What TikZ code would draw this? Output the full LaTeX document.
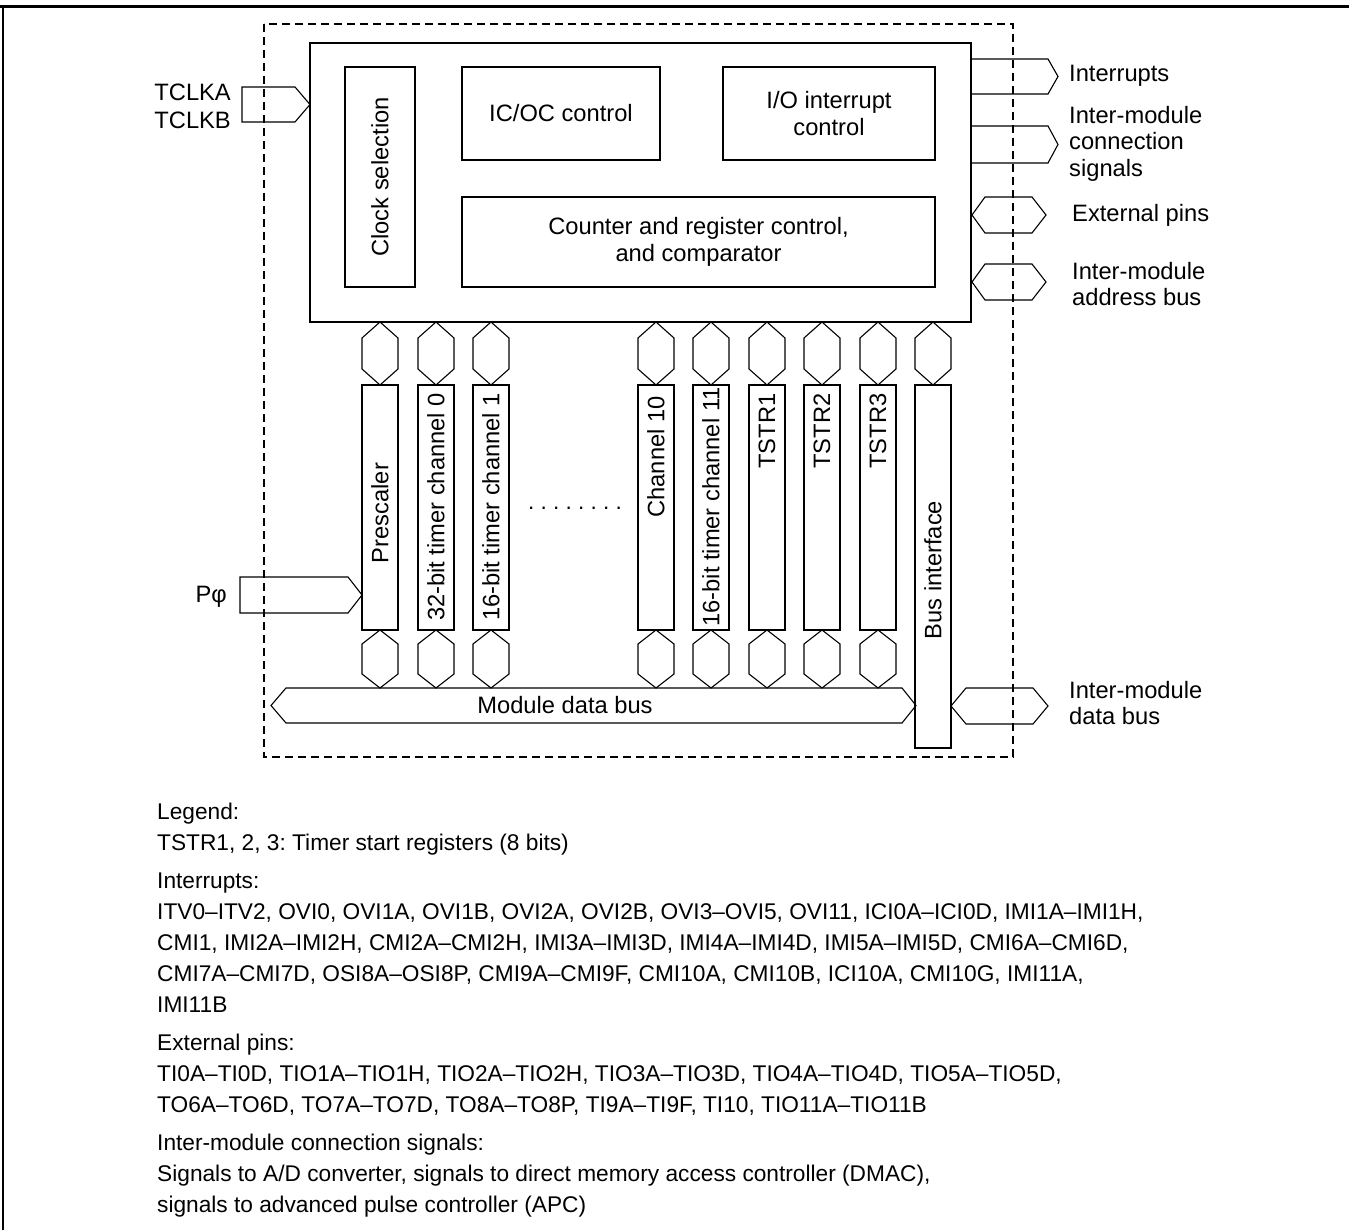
\documentclass[tikz,border=0pt]{standalone}
\usepackage{fontspec}
\setmainfont{Liberation Sans}
\frenchspacing
\begin{document}
\begin{tikzpicture}[x=1pt,y=-1pt,
  lbl/.style={font=\fontsize{23.7}{26.5}\selectfont, inner sep=0pt},
  leg/.style={font=\fontsize{22.7}{27}\selectfont, inner sep=0pt, anchor=base west},
  box/.style={draw, line width=1.1pt, inner sep=0pt},
  bus/.style={draw, line width=1.1pt, line join=miter}]
\useasboundingbox (0,0) rectangle (1349,1230);
% outer frame (top and left)
\draw[line width=3pt] (0,7) -- (1349,7);
\draw[line width=2pt] (3,5.5) -- (3,1230);
% module boundary
\draw[line width=1.1pt, dash pattern=on 8pt off 5pt] (264,24) rectangle (1013,757);
% main control block
\node[box, minimum width=661pt, minimum height=279pt] (main) at (640.5,182.5) {};
\node[box, minimum width=70pt, minimum height=220pt] (clk) at (380,177) {};
\node[lbl, rotate=90] at (clk.center) {Clock selection};
\node[box, lbl, minimum width=198pt, minimum height=93pt] (icoc) at (561,113.5) {IC/OC control};
\node[box, lbl, align=center, minimum width=212pt, minimum height=93pt] (ioint) at (829,113.5) {I/O interrupt\\control};
\node[box, lbl, align=center, minimum width=473pt, minimum height=90pt] (cnt) at (698.5,242) {Counter and register control,\\and comparator};
% columns
\foreach \n/\x/\t/\ty in {pre/380/Prescaler/513, c0/436/32-bit timer channel 0/507, c1/491/16-bit timer channel 1/507, c10/656/Channel 10/457, c11/711/16-bit timer channel 11/507, t1/767/TSTR1/431, t2/822/TSTR2/431, t3/878/TSTR3/431}{
  \draw[bus] (\x,322) -- ({\x+18},338) -- ({\x+18},369) -- (\x,385) -- ({\x-18},369) -- ({\x-18},338) -- cycle;
  \node[box, minimum width=36pt, minimum height=245pt] (col-\n) at (\x,507.5) {};
  \node[lbl, rotate=90] at (\x,\ty) {\t};
  \draw[bus] (\x,630) -- ({\x+18},644) -- ({\x+18},674) -- (\x,688) -- ({\x-18},674) -- ({\x-18},644) -- cycle;
}
% bus interface
\draw[bus] (933,322) -- (951,338) -- (951,369) -- (933,385) -- (915,369) -- (915,338) -- cycle;
\node[box, minimum width=36pt, minimum height=363pt] (col-bi) at (933,566.5) {};
\node[lbl, rotate=90] at (933,570) {Bus interface};
% dots
\node[lbl, font=\fontsize{22.5}{26}\selectfont] (dots) at (575,508) {. . . . . . . .};
% module data bus
\draw[bus] (271,705.5) -- (286,688) -- (902,688) -- (916,705.5) -- (902,723) -- (286,723) -- cycle;
\node[lbl] (mdb) at (565,705) {Module data bus};
% inter-module data bus
\draw[bus] (951,706) -- (966,688) -- (1033,688) -- (1048,706) -- (1033,724) -- (966,724) -- cycle;
\node[lbl, align=left, anchor=west] at (1069,703) {Inter-module\\data bus};
% TCLK input
\draw[bus] (242,87) -- (295,87) -- (310,104.5) -- (295,122) -- (242,122) -- cycle;
\node[lbl, anchor=east] at (231,92) {TCLKA};
\node[lbl, anchor=east] at (231,120) {TCLKB};
% P phi input
\draw[bus] (240,577) -- (348,577) -- (362,595) -- (348,613) -- (240,613) -- cycle;
\node[lbl, anchor=east] at (227,597) {Pφ};
% outputs on right
\draw[bus] (972,59) -- (1048,59) -- (1058,76.5) -- (1048,94) -- (972,94);
\node[lbl, anchor=west] at (1069,76) {Interrupts};
\draw[bus] (972,126) -- (1048,126) -- (1058,144.5) -- (1048,163) -- (972,163);
\node[lbl, align=left, anchor=west] at (1069,143.5) {Inter-module\\connection\\signals};
\draw[bus] (972,215) -- (985,197) -- (1032,197) -- (1046,215) -- (1032,233) -- (985,233) -- cycle;
\node[lbl, anchor=west] at (1072,215) {External pins};
\draw[bus] (972,282) -- (985,264) -- (1032,264) -- (1046,282) -- (1032,300) -- (985,300) -- cycle;
\node[lbl, align=left, anchor=west] at (1072,284) {Inter-module\\address bus};
% legend
\node[leg] at (157,819) {Legend:};
\node[leg] at (157,850) {TSTR1, 2, 3: Timer start registers (8 bits)};
\node[leg] at (157,888) {Interrupts:};
\node[leg] at (157,919) {ITV0–ITV2, OVI0, OVI1A, OVI1B, OVI2A, OVI2B, OVI3–OVI5, OVI11, ICI0A–ICI0D, IMI1A–IMI1H,};
\node[leg] at (157,950) {CMI1, IMI2A–IMI2H, CMI2A–CMI2H, IMI3A–IMI3D, IMI4A–IMI4D, IMI5A–IMI5D, CMI6A–CMI6D,};
\node[leg] at (157,981) {CMI7A–CMI7D, OSI8A–OSI8P, CMI9A–CMI9F, CMI10A, CMI10B, ICI10A, CMI10G, IMI11A,};
\node[leg] at (157,1012) {IMI11B};
\node[leg] at (157,1050) {External pins:};
\node[leg] at (157,1081) {TI0A–TI0D, TIO1A–TIO1H, TIO2A–TIO2H, TIO3A–TIO3D, TIO4A–TIO4D, TIO5A–TIO5D,};
\node[leg] at (157,1112) {TO6A–TO6D, TO7A–TO7D, TO8A–TO8P, TI9A–TI9F, TI10, TIO11A–TIO11B};
\node[leg] at (157,1150) {Inter-module connection signals:};
\node[leg] at (157,1181) {Signals to A/D converter, signals to direct memory access controller (DMAC),};
\node[leg] at (157,1212) {signals to advanced pulse controller (APC)};
\end{tikzpicture}
\end{document}
